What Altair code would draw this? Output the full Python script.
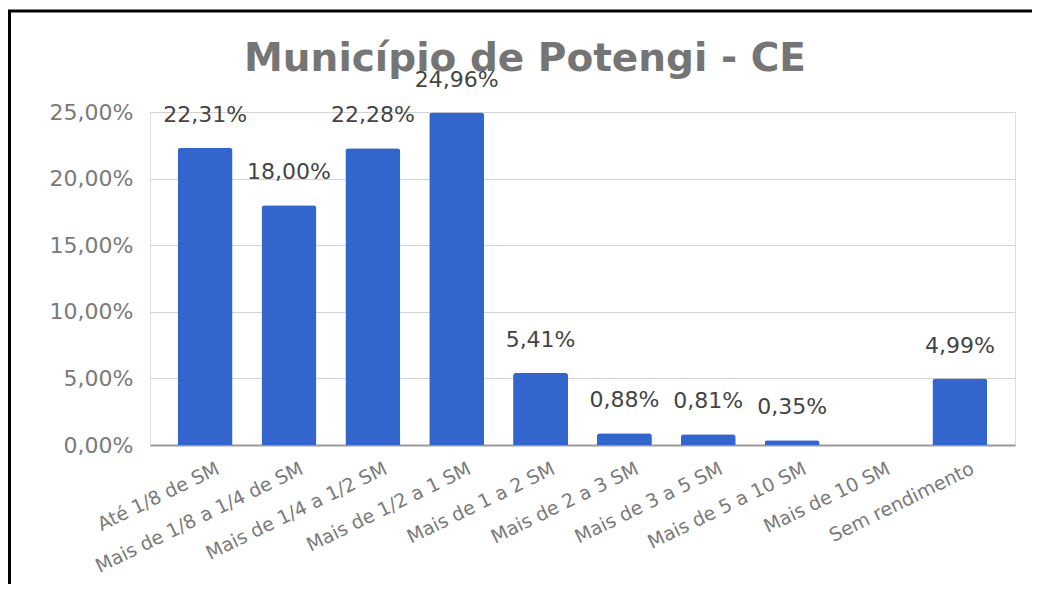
import altair as alt
import pandas as pd

categories = [
    "Até 1/8 de SM",
    "Mais de 1/8 a 1/4 de SM",
    "Mais de 1/4 a 1/2 SM",
    "Mais de 1/2 a 1 SM",
    "Mais de 1 a 2 SM",
    "Mais de 2 a 3 SM",
    "Mais de 3 a 5 SM",
    "Mais de 5 a 10 SM",
    "Mais de 10 SM",
    "Sem rendimento",
]
values = [22.31, 18.00, 22.28, 24.96, 5.41, 0.88, 0.81, 0.35, 0.00, 4.99]
y_ticks = [0, 5, 10, 15, 20, 25]
title_text = "Município de Potengi - CE"

df = pd.DataFrame({"cat": categories, "val": values})

FONT = "DejaVu Sans"
BLUE = "#3366cc"

x_enc = alt.X(
    "cat:N",
    sort=categories,
    title=None,
    scale=alt.Scale(paddingInner=0.345, paddingOuter=0.33),
    axis=alt.Axis(
        labelAngle=-26,
        labelAlign="right",
        labelBaseline="top",
        labelOffset=9,
        labelPadding=14,
        labelFont=FONT,
        labelFontSize=19,
        labelColor="#7a7a7a",
        labelLimit=400,
        ticks=False,
        domain=True,
        domainColor="#9a9a9a",
        domainWidth=2,
        grid=False,
    ),
)
y_enc = alt.Y(
    "val:Q",
    title=None,
    scale=alt.Scale(domain=[0, 25], nice=False),
    axis=alt.Axis(
        values=y_ticks,
        labelExpr="replace(format(datum.value, '.2f'), '.', ',') + '%'",
        labelFont=FONT,
        labelFontSize=22,
        labelColor="#7a7a7a",
        labelPadding=17,
        ticks=False,
        domain=False,
        grid=True,
        gridColor="#d4d4d4",
        gridWidth=1,
    ),
)

base = alt.Chart(df)

bars = base.mark_bar(
    color=BLUE, cornerRadiusTopLeft=3, cornerRadiusTopRight=3
).encode(x=x_enc, y=y_enc)

labels = (
    base.transform_filter("datum.val > 0")
    .transform_calculate(
        lbl="replace(format(datum.val, '.2f'), '.', ',') + '%'"
    )
    .mark_text(font=FONT, fontSize=22, color="#444444", baseline="middle", dy=-33)
    .encode(x=alt.X("cat:N", sort=categories), y=alt.Y("val:Q"), text="lbl:N")
)

one = pd.DataFrame({"a": [0]})

title_mark = alt.Chart(one).mark_text(
    font=FONT,
    fontSize=39,
    fontWeight="bold",
    color="#757575",
    align="center",
    baseline="alphabetic",
).encode(x=alt.value(375), y=alt.value(-41), text=alt.value(title_text))

border_top = alt.Chart(one).mark_rule(color="#000000", strokeWidth=3).encode(
    x=alt.value(-142), x2=alt.value(890), y=alt.value(-101)
)
border_left = alt.Chart(one).mark_rule(color="#000000", strokeWidth=3).encode(
    x=alt.value(-140.5), y=alt.value(-102), y2=alt.value(480)
)

chart = (
    alt.layer(bars, title_mark, labels, border_top, border_left)
    .properties(
        width=865,
        height=333,
        autosize=alt.AutoSizeParams(type="none"),
        padding={"left": 142, "top": 104, "right": 17, "bottom": 139},
    )
    .configure_view(strokeWidth=0)
    .configure(background="white")
)

chart.save("out.html", embed_options={"renderer": "svg", "actions": False})
